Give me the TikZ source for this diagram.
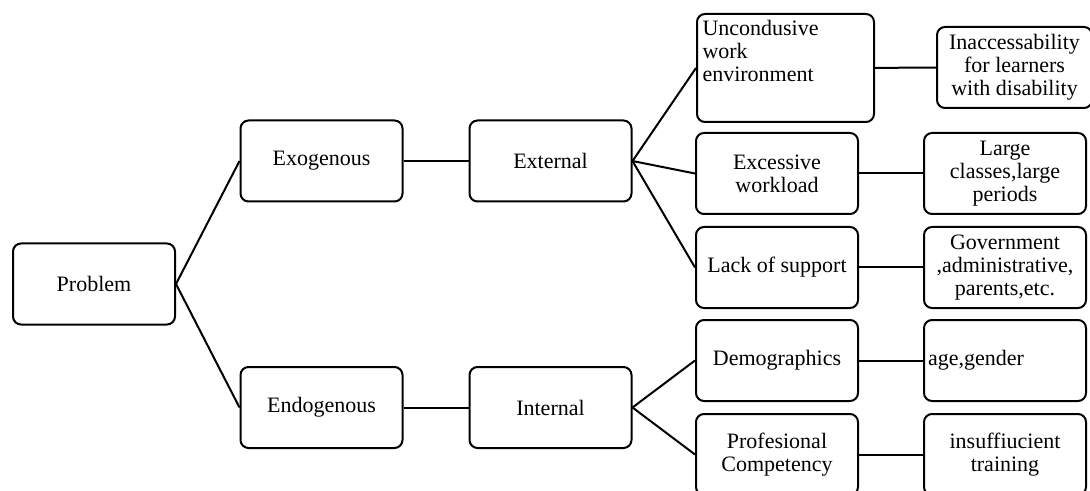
\documentclass[tikz,border=0pt]{standalone}
\usepackage{fontspec}
\setmainfont{Liberation Serif}
\usepackage{tikz}
\usetikzlibrary{positioning}
\tikzset{box/.style = {draw, rounded corners=4pt, line width=1pt,
                       minimum width=81pt, minimum height=40.5pt,
                       inner sep=2pt, align=center,
                       font=\fontsize{11}{11.6}\selectfont}}
\tikzset{link/.style = {line width=1pt}}

\begin{document}
\begin{tikzpicture}[x=0.5pt, y=-0.5pt]
    \clip (0, 0) rectangle (1090, 491);

    \node [box] (problem) at (94, 284) {Problem};

    \node [box] (exo)  at (321.5, 161)   {Exogenous};
    \node [box] (endo) at (321.5, 407.5) {Endogenous};
    \node [box] (ext)  at (550.5, 161)   {External};
    \node [box] (int)  at (550.5, 407.5) {Internal};

    % causes
    \node [box, anchor=north west, minimum width=88.5pt, minimum height=54pt,
           inner sep=2.5pt] (work) at (696, 13)
          {\parbox[t][48pt][t]{83pt}{Uncondusive\\work\\environment}};
    \node [box] (load)    at (777, 173.5) {Excessive\\workload};
    \node [box] (support) at (777, 267.5) {Lack of support};
    \node [box] (demo)    at (777, 360.5) {Demographics};
    \node [box] (comp)    at (777, 454.5) {Profesional\\Competency};

    % examples
    \node [box, minimum width=77.5pt] (access) at (1014.5, 67.5)
          {Inaccessability\\for learners\\with disability};
    \node [box] (classes) at (1005, 173.5) {Large\\classes,large\\periods};
    \node [box] (gov)     at (1005, 267.5) {Government\\,administrative,\\parents,etc.};
    \node [box, align=left, text width=77pt] (age) at (1005, 360.5) {age,gender};
    \node [box] (train)   at (1005, 454.5) {insuffiucient\\training};

    \draw [link] (problem.east) -- (exo.west);
    \draw [link] (problem.east) -- (endo.west);
    \draw [link] (exo) -- (ext);
    \draw [link] (endo) -- (int);

    \draw [link] (ext.east) -- (work.west);
    \draw [link] (ext.east) -- (load.west);
    \draw [link] (ext.east) -- (support.west);
    \draw [link] (int.east) -- (demo.west);
    \draw [link] (int.east) -- (comp.west);

    \draw [link] (work) -- (access);
    \draw [link] (load) -- (classes);
    \draw [link] (support) -- (gov);
    \draw [link] (demo) -- (age);
    \draw [link] (comp) -- (train);
\end{tikzpicture}
\end{document}
